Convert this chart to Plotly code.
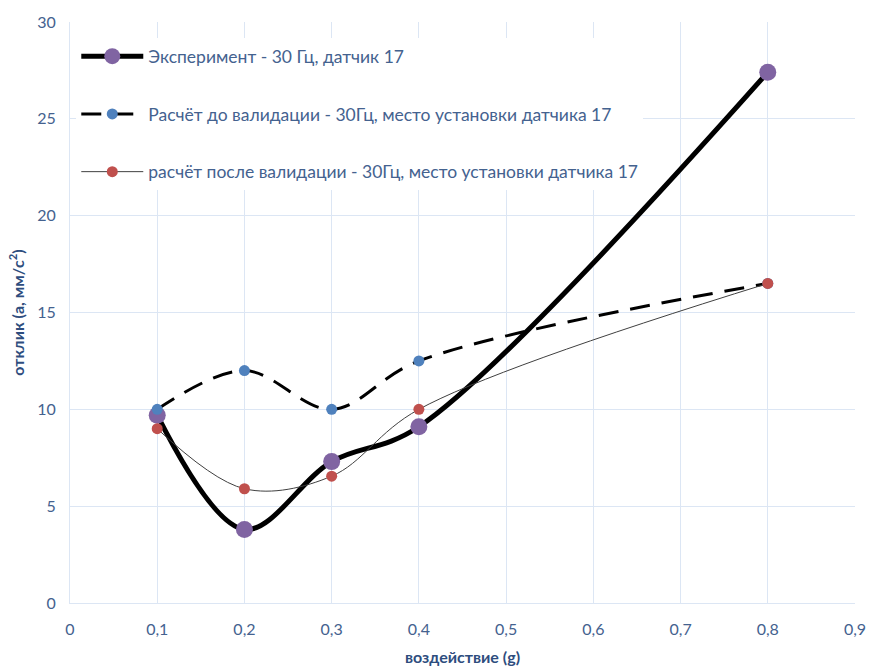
import plotly.graph_objects as go

# Impact level (g) and measured/calculated responses (mm/s²)
x_vals = [0.1, 0.2, 0.3, 0.4, 0.8]
experiment = [9.7, 3.8, 7.3, 9.1, 27.4]
calc_before = [10.0, 12.0, 10.0, 12.5, 16.5]
calc_after = [9.0, 5.9, 6.55, 10.0, 16.5]

x_ticks = [0, 0.1, 0.2, 0.3, 0.4, 0.5, 0.6, 0.7, 0.8, 0.9]
x_tick_text = ["0", "0,1", "0,2", "0,3", "0,4", "0,5", "0,6", "0,7", "0,8", "0,9"]
y_ticks = [0, 5, 10, 15, 20, 25, 30]

names = [
    "Эксперимент - 30 Гц, датчик 17",
    "Расчёт до валидации - 30Гц, место установки датчика 17",
    "расчёт после валидации - 30Гц, место установки датчика 17",
]

FONT = "Lato, 'Open Sans', sans-serif"
TEXT_COL = "#44628F"
TITLE_COL = "#2E4D7E"
GRID_COL = "#DCE6F4"

fig = go.Figure()

fig.add_trace(go.Scatter(
    x=x_vals, y=experiment, name=names[0], legendgroup="a",
    mode="lines+markers",
    line=dict(color="black", width=5, shape="spline", smoothing=1),
    marker=dict(color="#8064A2", size=17),
))
fig.add_trace(go.Scatter(
    x=x_vals, y=calc_before, name=names[1], legendgroup="b",
    mode="lines+markers",
    line=dict(color="black", width=3, dash="20px,12px", shape="spline", smoothing=1),
    marker=dict(color="#4F81BD", size=11),
))
fig.add_trace(go.Scatter(
    x=x_vals, y=calc_after, name=names[2], legendgroup="c",
    mode="lines+markers",
    line=dict(color="#404040", width=1, shape="spline", smoothing=1),
    marker=dict(color="#C0504D", size=11),
))

fig.update_layout(
    width=870, height=668,
    margin=dict(l=70, r=15, t=22, b=65),
    paper_bgcolor="white", plot_bgcolor="white",
    font=dict(family=FONT, color=TEXT_COL, size=16),
    showlegend=True,
    legend=dict(
        x=0.008, y=0.972, xanchor="left", yanchor="top",
        bgcolor="rgba(255,255,255,1)",
        font=dict(size=17.5, color=TEXT_COL),
        tracegroupgap=32,
        itemwidth=62,
    ),
    xaxis=dict(
        range=[0, 0.9], tickvals=x_ticks, ticktext=x_tick_text,
        automargin=False,
        showgrid=True, gridcolor=GRID_COL, gridwidth=1,
        showline=True, linecolor=GRID_COL, linewidth=1,
        zeroline=False, ticks="", ticklen=0, ticklabelstandoff=12,
        tickfont=dict(size=16, color=TEXT_COL),
        title=dict(text="<b>воздействие (g)</b>", font=dict(size=16, color=TITLE_COL), standoff=14),
    ),
    yaxis=dict(
        range=[0, 30], tickvals=y_ticks,
        automargin=False,
        showgrid=True, gridcolor=GRID_COL, gridwidth=1,
        showline=True, linecolor=GRID_COL, linewidth=1,
        zeroline=False, ticks="", ticklen=0, ticklabelstandoff=10,
        tickfont=dict(size=16, color=TEXT_COL),
        title=dict(text="<b>отклик (a, мм/c<sup>2</sup>)</b>", font=dict(size=16, color=TITLE_COL), standoff=8),
    ),
)

fig.write_html("out.html")
